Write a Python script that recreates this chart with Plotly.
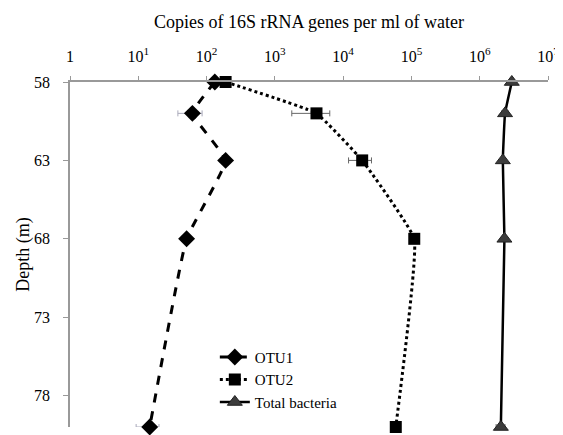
import plotly.graph_objects as go

depth = [58, 60, 63, 68, 80]
otu1 = [132, 62, 190, 51, 14.7]
otu1_err = [20, 24, 25, 8, 5.4]
otu2 = [190, 4070, 19000, 110000, 59000]
otu2_err = [20, 2300, 7000, 8000, 4000]
total = [2.95e6, 2.35e6, 2.18e6, 2.3e6, 2.04e6]
total_err = [0.15e6, 0.25e6, 0.1e6, 0.1e6, 0.3e6]

tick_vals = [1, 10, 100, 1e3, 1e4, 1e5, 1e6, 1e7]
tick_text = ["1", "10<sup>1</sup>", "10<sup>2</sup>", "10<sup>3</sup>", "10<sup>4</sup>",
             "10<sup>5</sup>", "10<sup>6</sup>", "10<sup>7</sup>"]
y_ticks = [58, 63, 68, 73, 78]

font = "Liberation Serif, Times New Roman, serif"

fig = go.Figure()
fig.add_trace(go.Scatter(
    x=otu1, y=depth, name="OTU1", mode="lines+markers",
    line=dict(color="black", width=3, dash="dash", shape="spline", smoothing=0.3),
    marker=dict(symbol="diamond", size=13, color="black"),
    error_x=dict(type="data", array=otu1_err, color="#aab", thickness=1, width=3),
    cliponaxis=False,
))
fig.add_trace(go.Scatter(
    x=otu2, y=depth, name="OTU2", mode="lines+markers",
    line=dict(color="black", width=3, dash="dot", shape="spline", smoothing=0.3),
    marker=dict(symbol="square", size=12, color="black"),
    error_x=dict(type="data", array=otu2_err, color="#666", thickness=1, width=3),
    cliponaxis=False,
))
fig.add_trace(go.Scatter(
    x=total, y=depth, name="Total bacteria", mode="lines+markers",
    line=dict(color="black", width=2.5, shape="spline", smoothing=0.3),
    marker=dict(symbol="triangle-up", size=13, color="#3c3c3c", line=dict(color="#222", width=1)),
    error_x=dict(type="data", array=total_err, color="#666", thickness=1, width=3),
    cliponaxis=False,
))

fig.update_layout(
    width=555, height=427,
    margin=dict(l=62, r=15, t=74, b=8),
    paper_bgcolor="white", plot_bgcolor="white",
    font=dict(family=font, color="black", size=15),
    showlegend=True,
    legend=dict(x=0.303, y=0.25, xanchor="left", yanchor="top",
                bgcolor="rgba(0,0,0,0)", font=dict(size=15, family=font),
                itemwidth=30, tracegroupgap=0),
    xaxis=dict(type="log", side="top", range=[0, 7], tickvals=tick_vals, ticktext=tick_text,
               showgrid=False, zeroline=False, showline=True, linecolor="#999", linewidth=1.5,
               ticks="outside", ticklen=4, tickcolor="#999", tickfont=dict(size=16),
               automargin=False, ticklabelstandoff=8,
               title=dict(text="Copies of 16S rRNA genes per ml of water", font=dict(size=18), standoff=12)),
    yaxis=dict(range=[80, 58], tickvals=y_ticks, showgrid=False, zeroline=False,
               showline=True, linecolor="#999", linewidth=1.5, ticks="outside", ticklen=5,
               tickcolor="#999", tickfont=dict(size=16), automargin=False, ticklabelstandoff=10,
               title=dict(text="Depth (m)", font=dict(size=18), standoff=0)),
)

fig.write_html("out.html")
